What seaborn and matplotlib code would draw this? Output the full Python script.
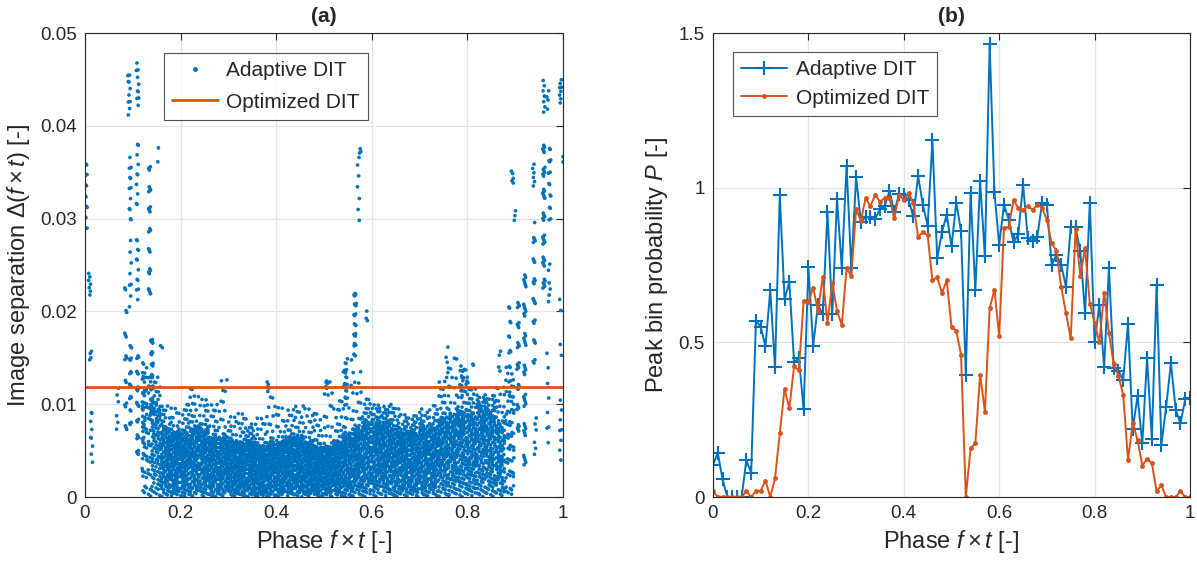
import numpy as np
import pandas as pd
import matplotlib
matplotlib.use("Agg")
import matplotlib.pyplot as plt
import seaborn as sns
from matplotlib.lines import Line2D

# ---------------- data: panel (b) ----------------
phase_b = [round(0.01 * i, 2) for i in range(101)]
adaptive_p = [0.104, 0.143, 0.057, 0, 0, 0, 0, 0.12, 0.077, 0.57,
              0.55, 0.487, 0.668, 0.42, 0.977, 0.64, 0.694, 0.435, 0.449, 0.284,
              0.742, 0.489, 0.621, 0.59, 0.92, 0.59, 0.964, 0.74, 1.069, 0.74,
              1.035, 0.889, 0.905, 0.905, 0.90, 0.93, 0.94, 0.99, 0.92, 0.98,
              0.977, 0.96, 0.907, 1.037, 0.945, 0.877, 1.153, 0.772, 0.856, 0.913,
              0.81, 0.952, 0.859, 0.395, 0.983, 0.668, 1.02, 0.778, 1.463, 0.985,
              0.815, 0.945, 0.896, 0.823, 0.85, 1.01, 0.837, 0.826, 0.842, 0.952,
              0.945, 0.75, 0.783, 0.75, 0.68, 0.873, 0.873, 0.794, 0.594, 0.952,
              0.50, 0.621, 0.419, 0.74, 0.416, 0.406, 0.379, 0.56, 0.219, 0.327,
              0.174, 0.449, 0.187, 0.686, 0.168, 0.292, 0.433, 0.282, 0.238, 0.316,
              0.32]
optimized_p = [0.019, 0, 0, 0, 0, 0, 0, 0.019, 0, 0.02,
               0.02, 0.053, 0, 0.06, 0.206, 0.35, 0.287, 0.422, 0.409, 0.634,
               0.629, 0.677, 0.602, 0.71, 0.564, 0.691, 0.602, 0.556, 0.739, 0.715,
               0.931, 0.893, 0.967, 0.94, 0.977, 0.955, 0.966, 0.966, 0.901, 0.977,
               0.96, 0.982, 0.95, 0.84, 0.857, 0.846, 0.70, 0.71, 0.66, 0.70,
               0.55, 0.538, 0.46, 0, 0.157, 0.174, 0.395, 0.276, 0.61, 0.67,
               0.519, 0.87, 0.873, 0.96, 0.934, 0.929, 0.94, 0.929, 0.945, 0.934,
               0.896, 0.82, 0.796, 0.679, 0.594, 0.513, 0.866, 0.715, 0.804, 0.625,
               0.564, 0.50, 0.661, 0.53, 0.43, 0.392, 0.33, 0.12, 0.24, 0.184,
               0.101, 0.123, 0.109, 0.019, 0.038, 0, 0, 0, 0.019, 0,
               0]

# ---------------- data: panel (a) (read as density per 0.02-wide phase bin, in 1e-3) ----------------
bin_start = [round(0.02 * i, 2) for i in range(50)]
band_top = [0, 0, 0, 0, 0, 0, 11, 10, 7.5, 7,
            7, 7.5, 7.5, 6.5, 6.5, 6, 6, 6, 5.5, 6,
            6, 6.5, 6.5, 6, 5.5, 5.5, 6, 7, 7.5, 8,
            8, 8, 7.5, 7, 7, 7.5, 7.5, 8.5, 9, 9.5,
            9, 9.5, 9, 8, 10, 0, 0, 0, 0, 0]
band_n = [0, 0, 0, 0, 0, 0, 50, 85, 100, 105,
          105, 105, 105, 100, 100, 105, 110, 110, 110, 110,
          110, 110, 110, 110, 110, 105, 105, 105, 105, 110,
          110, 110, 110, 105, 105, 105, 105, 105, 105, 105,
          105, 100, 95, 80, 45, 0, 0, 0, 0, 0]
sparse_top = [0, 0, 0, 0, 0, 0, 14, 13, 10, 10,
              10, 12, 11, 10, 13, 9, 9, 8, 9, 12,
              10, 10, 10, 10, 9, 13, 11, 15, 14, 11,
              10, 10, 10, 9, 9, 9.5, 10, 13, 15, 14,
              12, 11, 11, 12, 14, 0, 0, 0, 0, 0]
sparse_n = [0, 0, 0, 0, 0, 0, 12, 14, 14, 14,
            14, 16, 16, 14, 14, 14, 14, 14, 14, 14,
            14, 14, 14, 14, 14, 16, 16, 16, 16, 16,
            16, 16, 16, 14, 14, 14, 14, 16, 16, 16,
            16, 16, 16, 16, 14, 0, 0, 0, 0, 0]
# vertical streaks: phase, low, high (1e-3), number of points
streak_x = [0.002, 0.010, 0.012, 0.014, 0.068, 0.085, 0.092, 0.095, 0.095, 0.095,
            0.110, 0.110, 0.110, 0.110, 0.122, 0.135, 0.140, 0.153, 0.160,
            0.383, 0.505, 0.545, 0.565, 0.572, 0.575, 0.590,
            0.757, 0.788, 0.800, 0.810, 0.868, 0.889, 0.894, 0.900,
            0.906, 0.920, 0.938, 0.940, 0.942, 0.960, 0.960, 0.968, 0.968,
            0.972, 0.972, 0.995, 0.995, 0.995, 1.0]
streak_lo = [28, 21.5, 14.4, 3.2, 6.9, 6.5, 41, 29.8, 20.5, 6.8,
             41.7, 31, 20.8, 4.4, 3, 20.5, 8.7, 36, 16,
             10.8, 11.7, 9.9, 14.4, 29, 36.5, 18.6,
             12.6, 10.7, 12, 14.2, 13, 10.5, 33.8, 29.8,
             5.5, 2.4, 33.4, 14.4, 4, 41, 21.6, 41.7, 5.5,
             29.8, 20.4, 42.1, 13, 3.1, 36]
streak_hi = [36, 24.2, 16, 9.4, 12.1, 24, 46, 37.6, 28.8, 16.4,
             47, 38.4, 28.3, 16.4, 14.5, 36, 17.5, 39.5, 16.5,
             12.6, 12.8, 15.1, 22, 37.4, 37.6, 20.4,
             16.4, 14.4, 13, 14.4, 16, 21.7, 35.6, 31,
             21, 25, 36.7, 29.7, 8.6, 45, 38.6, 44, 16.7,
             38.6, 25.1, 45, 21.5, 10.7, 37]
streak_n = [14, 7, 4, 9, 6, 18, 10, 12, 8, 20,
            10, 10, 12, 25, 20, 25, 30, 2, 2,
            3, 4, 15, 25, 6, 4, 3,
            5, 8, 3, 2, 4, 15, 5, 3,
            30, 40, 6, 25, 6, 8, 40, 4, 8,
            15, 6, 8, 4, 8, 2]
opt_separation = 0.0118

BLUE = "#0072BD"
ORANGE = "#D95319"

# ---------- build the scatter table (deterministic low-discrepancy placement) ----------
a1, a2, a3 = 0.7548776662466927, 0.5698402909980532, 0.6180339887498949
xs, ys = [], []
k = 0
def seq():
    global k
    k += 1
    return (0.5 + a1 * k) % 1.0, (0.5 + a2 * k) % 1.0, (0.3 + a3 * k) % 1.0
for b0, top, n, stop, sn in zip(bin_start, band_top, band_n, sparse_top, sparse_n):
    for _ in range(n):
        u, v, w = seq()
        col = int(u * 5)
        xs.append(b0 + 0.004 * col + 0.0015 * w)
        ys.append(top * 1e-3 * v ** 0.85)
    for _ in range(sn):
        u, v, w = seq()
        col = int(u * 5)
        xs.append(b0 + 0.004 * col + 0.0015 * w)
        ys.append((top + (stop - top) * v ** 1.3) * 1e-3)
for sx, lo, hi, n in zip(streak_x, streak_lo, streak_hi, streak_n):
    for _ in range(n):
        u, v, w = seq()
        xs.append(min(1.0, max(0.0, sx + (u - 0.5) * 0.005)))
        ys.append((lo + (hi - lo) * v) * 1e-3)
df_a = pd.DataFrame({"phase": xs, "sep": ys})
df_b = pd.DataFrame({"phase": phase_b, "adaptive": adaptive_p, "optimized": optimized_p})

# ---------------- style ----------------
sns.set_style("white")
plt.rcParams["font.family"] = ["Liberation Sans", "DejaVu Sans"]
plt.rcParams["mathtext.fontset"] = "custom"
plt.rcParams["mathtext.rm"] = "Liberation Sans"
plt.rcParams["mathtext.it"] = "Liberation Sans:italic"
plt.rcParams["mathtext.bf"] = "Liberation Sans:bold"

fig = plt.figure(figsize=(11.97, 5.64), dpi=100)
ax1 = fig.add_axes([85 / 1197, 1 - 497 / 564, 478 / 1197, 464 / 564])
ax2 = fig.add_axes([713 / 1197, 1 - 497 / 564, 477 / 1197, 464 / 564])

TXT = "#262626"
LABEL_FS = 17
TICK_FS = 13.5
LEG_FS = 15

def style(ax):
    ax.grid(True, color="#e3e3e3", lw=0.9)
    ax.set_axisbelow(True)
    for s in ax.spines.values():
        s.set_color(TXT)
        s.set_linewidth(0.8)
        s.set_visible(True)
    ax.tick_params(direction="in", length=5, width=0.8, top=True, right=True,
                   labelsize=TICK_FS, colors=TXT, pad=6)

# panel (a)
sns.scatterplot(data=df_a, x="phase", y="sep", ax=ax1, color=BLUE, s=7,
                linewidth=0, edgecolor="none", legend=False)
ax1.axhline(opt_separation, color=ORANGE, lw=2.0)
ax1.set_xlim(0, 1)
ax1.set_ylim(0, 0.05)
ax1.set_xticks([0, 0.2, 0.4, 0.6, 0.8, 1])
ax1.set_xticklabels(["0", "0.2", "0.4", "0.6", "0.8", "1"])
ax1.set_yticks([0, 0.01, 0.02, 0.03, 0.04, 0.05])
ax1.set_yticklabels(["0", "0.01", "0.02", "0.03", "0.04", "0.05"])
style(ax1)
ax1.set_xlabel(r"Phase $f\times t$ [-]", fontsize=LABEL_FS, color=TXT, labelpad=4)
ax1.set_ylabel(r"Image separation $\mathit{\Delta}(f\times t)$ [-]", fontsize=LABEL_FS,
               color=TXT, labelpad=6)
ax1.set_title("(a)", fontsize=15, fontweight="bold", pad=8)
h1 = [Line2D([], [], color=BLUE, marker=".", ls="none", ms=5),
      Line2D([], [], color=ORANGE, lw=2.0)]
leg1 = ax1.legend(h1, ["Adaptive DIT", "Optimized DIT"], loc="upper left",
                  bbox_to_anchor=(0.165, 0.957), fontsize=LEG_FS, frameon=True, fancybox=False,
                  edgecolor=TXT, handlelength=2.2, borderpad=0.4, labelspacing=0.6,
                  handletextpad=0.4, borderaxespad=0)
leg1.get_frame().set_linewidth(0.8)

# panel (b)
sns.lineplot(data=df_b, x="phase", y="adaptive", ax=ax2, color=BLUE, lw=1.4,
             marker="+", markersize=10, markeredgewidth=1.5, markeredgecolor=BLUE,
             label="Adaptive DIT")
sns.lineplot(data=df_b, x="phase", y="optimized", ax=ax2, color=ORANGE, lw=1.4,
             marker="o", markersize=3.5, markeredgewidth=0, markerfacecolor=ORANGE,
             markeredgecolor=ORANGE, label="Optimized DIT")
ax2.set_xlim(0, 1)
ax2.set_ylim(0, 1.5)
ax2.set_xticks([0, 0.2, 0.4, 0.6, 0.8, 1])
ax2.set_xticklabels(["0", "0.2", "0.4", "0.6", "0.8", "1"])
ax2.set_yticks([0, 0.5, 1, 1.5])
ax2.set_yticklabels(["0", "0.5", "1", "1.5"])
style(ax2)
ax2.set_xlabel(r"Phase $f\times t$ [-]", fontsize=LABEL_FS, color=TXT, labelpad=4)
ax2.set_ylabel(r"Peak bin probability $P$ [-]", fontsize=LABEL_FS, color=TXT, labelpad=6)
ax2.set_title("(b)", fontsize=15, fontweight="bold", pad=8)
leg2 = ax2.legend(loc="upper left", bbox_to_anchor=(0.042, 0.959), fontsize=LEG_FS,
                  frameon=True, fancybox=False, edgecolor=TXT, handlelength=2.2,
                  borderpad=0.4, labelspacing=0.45, handletextpad=0.4, borderaxespad=0)
leg2.get_frame().set_linewidth(0.8)

fig.savefig("out.png", dpi=100)
